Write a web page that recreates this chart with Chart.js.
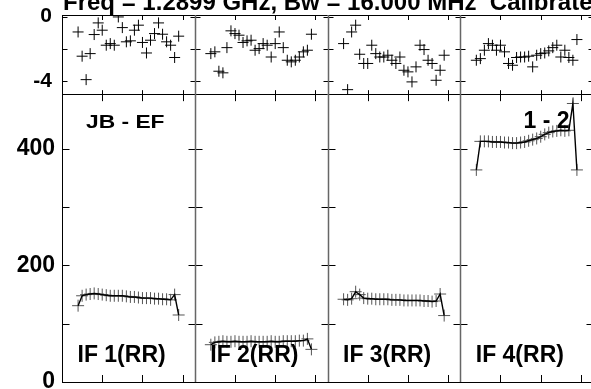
<!DOCTYPE html>
<html lang="en">
<head>
<meta charset="UTF-8">
<title>POSSM JB - EF</title>
<script src="https://cdn.jsdelivr.net/npm/chart.js@4"></script>
<style>
  html, body { margin: 0; padding: 0; background: #fff; overflow: hidden; }
  canvas { display: block; }
</style>
</head>
<body>
<canvas id="possm" width="600" height="389"></canvas>
<script>
// channels plotted in every IF panel
const channels = [4, 5, 6, 7, 8, 9, 10, 11, 12, 13, 14, 15, 16, 17, 18, 19, 20, 21, 22, 23, 24, 25, 26, 27, 28, 29];
const chansPerPanel = 33;
const channelTicks = [10, 20, 30];
const ifLabels = ['IF 1(RR)', 'IF 2(RR)', 'IF 3(RR)', 'IF 4(RR)'];
const titleText = 'Freq = 1.2899 GHz, Bw = 16.000 MHz  Calibrated';
const baselineText = 'JB - EF';
const pairText = '1 - 2';

// phase (top panel)
const phaseIF1 = [-0.95, -2.45, -3.9, -2.29, -1.11, -0.39, -0.84, -1.77, -1.67, -1.77, -0.02, -0.68, -1.56, -1.5, -0.84, -0.53, -1.6, -2.25, -1.46, -1.05, -0.39, -1.09, -1.56, -1.77, -2.53, -1.21];
const phaseIF2 = [-2.29, -2.18, -3.38, -3.48, -1.92, -0.88, -1.05, -1.15, -1.6, -1.5, -1.46, -2.08, -1.98, -1.67, -1.77, -2.5, -1.67, -0.95, -1.92, -2.7, -2.8, -2.7, -2.5, -2.18, -2.08, -1.09];
const phaseIF3 = [-1.67, -4.52, -0.95, -0.53, -2.33, -2.9, -2.9, -1.77, -2.29, -2.5, -2.5, -2.39, -2.7, -2.9, -2.5, -3.32, -3.42, -4.04, -3.11, -1.77, -2.04, -2.7, -2.9, -3.94, -3.32, -2.39];
const phaseIF4 = [-2.7, -2.6, -2.08, -1.67, -1.77, -2.08, -1.77, -2.18, -2.9, -3.01, -2.53, -2.5, -2.5, -2.45, -3.11, -2.39, -2.29, -2.25, -2.12, -1.92, -1.77, -2.5, -2.08, -2.53, -2.7, -1.42];

// amplitude (bottom panel)
const ampIF1 = [131, 148, 150, 151, 152, 151, 150, 149, 148, 148, 148, 148, 147, 146, 146, 145, 144, 144, 144, 143, 143, 142, 142, 141, 150, 115];
const ampIF2 = [64, 68, 69, 70, 69, 69, 70, 69, 69, 69, 70, 69, 69, 69, 69, 70, 69, 69, 70, 70, 70, 70, 71, 71, 74, 56];
const ampIF3 = [142, 141, 143, 155, 150, 144, 143, 143, 142, 142, 142, 142, 141, 141, 141, 140, 140, 140, 140, 140, 139, 139, 138, 139, 151, 114];
const ampIF4 = [364, 413, 413, 413, 412, 412, 412, 411, 411, 410, 410, 411, 412, 414, 416, 418, 421, 425, 428, 430, 431, 432, 431, 432, 478, 364];

const phaseTicks = [0, -2, -4];
const phaseTickLabels = ['0', '', '-4'];
const ampTicks = [0, 100, 200, 300, 400];
const ampTickLabels = ['0', '', '200', '', '400'];

const phaseSeries = [phaseIF1, phaseIF2, phaseIF3, phaseIF4];
const ampSeries = [ampIF1, ampIF2, ampIF3, ampIF4];

Chart.defaults.font.family = '"Liberation Sans", Arial, sans-serif';
Chart.defaults.color = '#000';

const toPoints = (vals, k) => vals.map((v, i) => ({ x: k * chansPerPanel + channels[i], y: v }));

const datasets = [];
// lines first so they sit on top of the grey markers
ampSeries.forEach((vals, k) => datasets.push({
    label: 'amp line ' + ifLabels[k],
    data: toPoints(vals, k),
    yAxisID: 'yAmp',
    showLine: true,
    borderColor: '#000',
    borderWidth: 1.4,
    pointRadius: 0
}));
ampSeries.forEach((vals, k) => datasets.push({
    label: 'amp ' + ifLabels[k],
    data: toPoints(vals, k),
    yAxisID: 'yAmp',
    showLine: false,
    pointStyle: 'cross',
    pointRadius: 6,
    pointBorderColor: '#555',
    pointBorderWidth: 1
}));
phaseSeries.forEach((vals, k) => datasets.push({
    label: 'phase ' + ifLabels[k],
    data: toPoints(vals, k),
    yAxisID: 'yPh',
    showLine: false,
    pointStyle: 'cross',
    pointRadius: 5.5,
    pointBorderColor: '#000',
    pointBorderWidth: 1
}));

function fixedWidth(scale) {
    scale.width = 62;
    scale.paddingTop = 0;
    scale.paddingBottom = 0;
}

// frame, inward ticks and panel labels
const possmFrame = {
    id: 'possmFrame',
    beforeDatasetsDraw(chart) {
        const { ctx, scales: { x, yPh, yAmp } } = chart;
        const top = yPh.top, mid = yPh.bottom, bot = yAmp.bottom;
        const px = v => Math.round(v) + 0.5;
        const nPanels = ifLabels.length;
        ctx.save();
        ctx.lineWidth = 1;
        ctx.strokeStyle = '#000';
        ctx.beginPath();
        [top, mid, bot].forEach(y => { ctx.moveTo(x.left, px(y)); ctx.lineTo(x.right, px(y)); });
        for (let k = 0; k <= nPanels; k++) {
            const xe = px(x.getPixelForValue(k * chansPerPanel));
            const tick = (y, len) => {
                ctx.moveTo(k > 0 ? xe - len : xe, y);
                ctx.lineTo(k < nPanels ? xe + len : xe, y);
            };
            phaseTicks.forEach(v => tick(px(yPh.getPixelForValue(v)), 5));
            ampTicks.forEach(v => tick(px(yAmp.getPixelForValue(v)), 7));
        }
        for (let k = 0; k < nPanels; k++) {
            channelTicks.forEach(c => {
                const xt = px(x.getPixelForValue(k * chansPerPanel + c));
                ctx.moveTo(xt, top); ctx.lineTo(xt, top + 5);
                ctx.moveTo(xt, mid - 4); ctx.lineTo(xt, mid + 7);
                ctx.moveTo(xt, bot - 7); ctx.lineTo(xt, bot);
            });
        }
        ctx.stroke();
        for (let k = 0; k <= nPanels; k++) {
            const xe = px(x.getPixelForValue(k * chansPerPanel));
            ctx.beginPath();
            ctx.strokeStyle = k === 0 ? '#000' : '#666';
            ctx.lineWidth = k === 0 ? 1 : 1.5;
            ctx.moveTo(xe, top);
            ctx.lineTo(xe, bot);
            ctx.stroke();
        }
        ctx.restore();
    },
    afterDatasetsDraw(chart) {
        const { ctx, scales: { x } } = chart;
        const font = '"Liberation Sans", Arial, sans-serif';
        ctx.save();
        ctx.fillStyle = '#000';
        ctx.textBaseline = 'alphabetic';
        ctx.textAlign = 'left';
        ctx.font = 'bold 24px ' + font;
        ctx.fillText(titleText, 63, 10);

        ctx.font = 'bold 23px ' + font;
        ifLabels.forEach((lab, k) => {
            ctx.fillText(lab, x.getPixelForValue(k * chansPerPanel) + 15.5, 362);
        });
        ctx.textAlign = 'right';
        ctx.fillText(pairText, x.getPixelForValue(4 * chansPerPanel) - 23.5, 127.5);

        // baseline name is drawn a bit narrower-tall, stretched sideways
        ctx.textAlign = 'left';
        ctx.font = 'bold 19px ' + font;
        ctx.translate(x.getPixelForValue(0) + 24, 128);
        ctx.scale(1.2, 1);
        ctx.fillText(baselineText, 0, 0);
        ctx.restore();
    }
};

new Chart(document.getElementById('possm'), {
    type: 'scatter',
    data: { datasets: datasets },
    options: {
        responsive: false,
        animation: false,
        layout: { padding: { top: 15, right: 4.5, bottom: 6.7, left: 0 } },
        plugins: {
            legend: { display: false },
            tooltip: { enabled: false },
            title: { display: false }
        },
        scales: {
            x: { type: 'linear', min: 0, max: chansPerPanel * ifLabels.length, display: false },
            yAmp: {
                type: 'linear',
                position: 'left',
                stack: 'possm',
                stackWeight: 288.3,
                min: 0,
                max: 494,
                afterBuildTicks: s => { s.ticks = ampTicks.map(v => ({ value: v })); },
                afterFit: fixedWidth,
                grid: { display: false, drawTicks: false },
                border: { display: false },
                ticks: {
                    padding: 7,
                    font: { size: 23, weight: 'bold' },
                    callback: v => ampTickLabels[ampTicks.indexOf(v)]
                }
            },
            yPh: {
                type: 'linear',
                position: 'left',
                stack: 'possm',
                stackWeight: 79.3,
                min: -4.8,
                max: 0.1,
                afterBuildTicks: s => { s.ticks = phaseTicks.map(v => ({ value: v })); },
                afterFit: fixedWidth,
                grid: { display: false, drawTicks: false },
                border: { display: false },
                ticks: {
                    padding: 10,
                    font: { size: 21, weight: 'bold' },
                    callback: v => phaseTickLabels[phaseTicks.indexOf(v)]
                }
            }
        }
    },
    plugins: [possmFrame]
});
</script>
</body>
</html>
